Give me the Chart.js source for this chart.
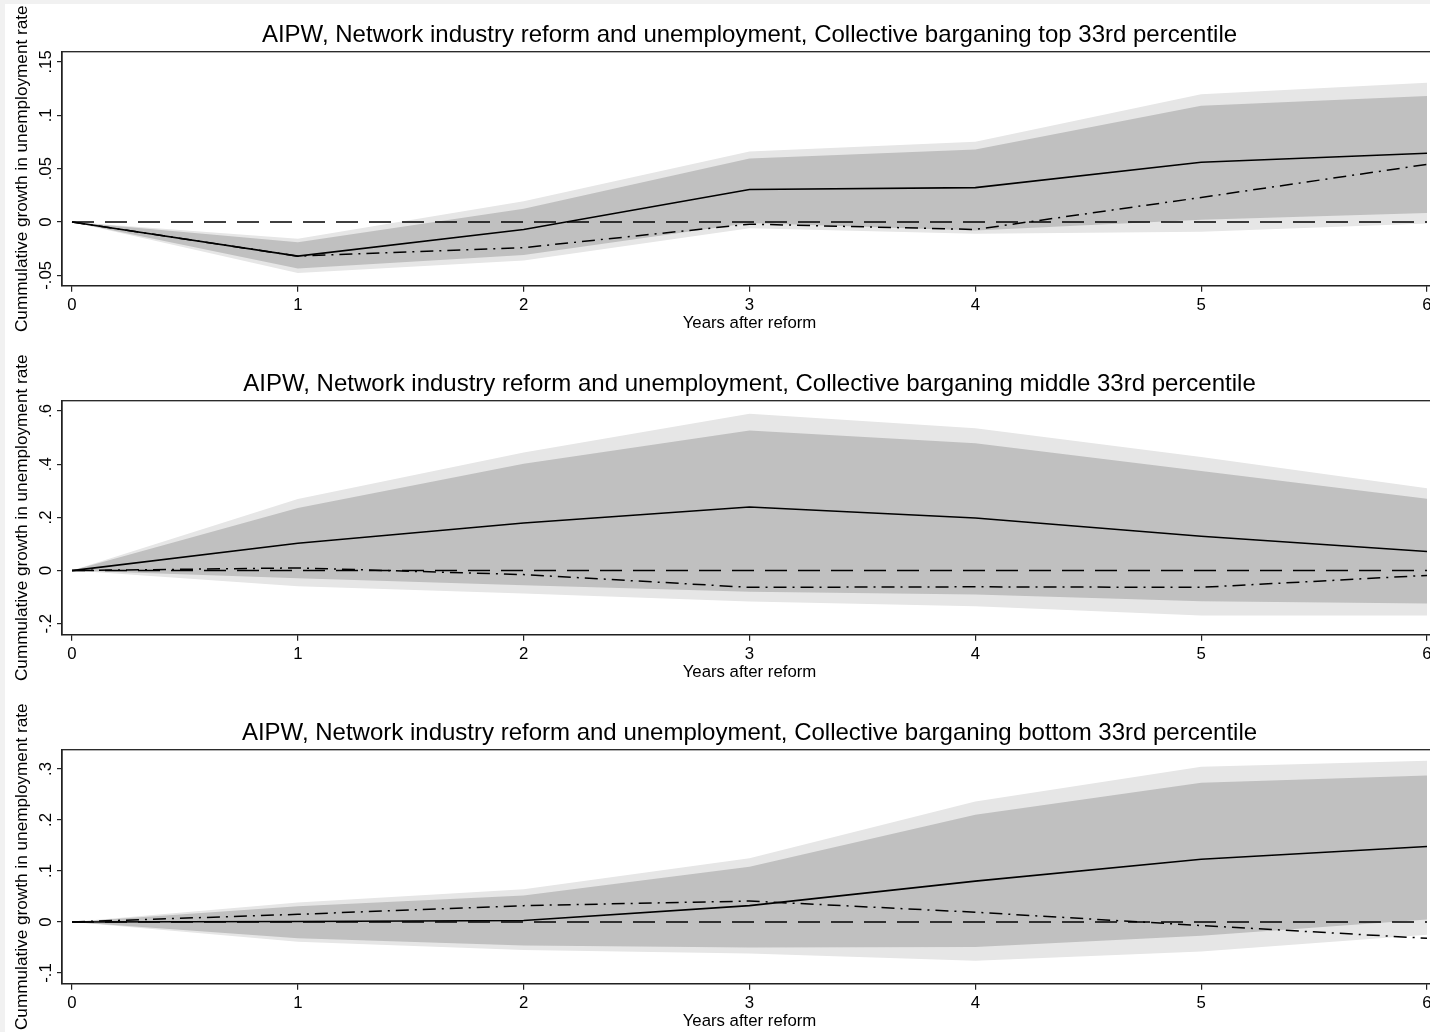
<!DOCTYPE html>
<html>
<head>
<meta charset="utf-8">
<title>AIPW, Network industry reform and unemployment</title>
<script src="https://cdn.jsdelivr.net/npm/chart.js@4.4.1/dist/chart.umd.min.js"></script>
<style>
  html, body { margin: 0; padding: 0; background: #f1f1f1; overflow: hidden; }
  #wrap { position: absolute; left: 5px; top: 4px; width: 1425px; height: 1028px; overflow: hidden; background: #fff; }
  canvas { display: block; }
</style>
</head>
<body>
<div id="wrap">
  <canvas id="top" width="1450" height="349"></canvas>
  <canvas id="middle" width="1450" height="349"></canvas>
  <canvas id="bottom" width="1450" height="349"></canvas>
</div>
<script>
// x axis: years after reform
const years = [0, 1, 2, 3, 4, 5, 6];
const xTickLabels = ['0', '1', '2', '3', '4', '5', '6'];

// top 33rd percentile
const topTitle = 'AIPW, Network industry reform and unemployment, Collective barganing top 33rd percentile';
const topEstimate = [0, -0.032, -0.007, 0.0305, 0.0322, 0.056, 0.0645];
const topAlt = [0, -0.032, -0.024, -0.002, -0.007, 0.023, 0.054];
const topUpper90 = [0, -0.019, 0.0125, 0.0595, 0.068, 0.109, 0.118];
const topLower90 = [0, -0.0435, -0.031, -0.001, -0.008, 0.002, 0.0085];
const topUpper95 = [0, -0.0158, 0.0195, 0.066, 0.0752, 0.1198, 0.1305];
const topLower95 = [0, -0.0477, -0.036, -0.0058, -0.011, -0.0092, -0.0015];
const topYTicks = [-0.05, 0, 0.05, 0.1, 0.15];
const topYLabels = ['-.05', '0', '.05', '.1', '.15'];

// middle 33rd percentile
const midTitle = 'AIPW, Network industry reform and unemployment, Collective barganing middle 33rd percentile';
const midEstimate = [0, 0.103, 0.179, 0.239, 0.198, 0.129, 0.072];
const midAlt = [0, 0.01, -0.015, -0.063, -0.061, -0.063, -0.018];
const midUpper90 = [0, 0.235, 0.402, 0.527, 0.479, 0.374, 0.27];
const midLower90 = [0, -0.029, -0.055, -0.08, -0.09, -0.115, -0.124];
const midUpper95 = [0, 0.269, 0.444, 0.59, 0.535, 0.427, 0.31];
const midLower95 = [0, -0.059, -0.086, -0.116, -0.134, -0.169, -0.169];
const midYTicks = [-0.2, 0, 0.2, 0.4, 0.6];
const midYLabels = ['-.2', '0', '.2', '.4', '.6'];

// bottom 33rd percentile
const botTitle = 'AIPW, Network industry reform and unemployment, Collective barganing bottom 33rd percentile';
const botEstimate = [0, 0.001, 0.003, 0.032, 0.08, 0.123, 0.148];
const botAlt = [0, 0.015, 0.032, 0.041, 0.019, -0.007, -0.032];
const botUpper90 = [0, 0.031, 0.052, 0.108, 0.21, 0.273, 0.287];
const botLower90 = [0, -0.032, -0.046, -0.05, -0.049, -0.027, 0.005];
const botUpper95 = [0, 0.038, 0.064, 0.125, 0.236, 0.304, 0.316];
const botLower95 = [0, -0.039, -0.055, -0.062, -0.076, -0.058, -0.025];
const botYTicks = [-0.1, 0, 0.1, 0.2, 0.3];
const botYLabels = ['-.1', '0', '.1', '.2', '.3'];

const zeroLine = [0, 0, 0, 0, 0, 0, 0];

const FONT = '"Liberation Sans", Arial, Helvetica, sans-serif';
Chart.defaults.font.family = FONT;

// plot region outline and the vertical y tick labels (Stata style)
const framePlugin = {
  id: 'frame',
  afterDraw(chart, args, opts) {
    const { ctx, chartArea: a } = chart;
    const y = chart.scales.y;
    ctx.save();
    ctx.strokeStyle = '#222';
    ctx.lineWidth = 1.3;
    ctx.strokeRect(a.left, a.top, a.right - a.left, a.bottom - a.top);
    ctx.fillStyle = '#000';
    ctx.font = '16.8px ' + FONT;
    ctx.textAlign = 'center';
    ctx.textBaseline = 'middle';
    opts.values.forEach((v, i) => {
      ctx.save();
      ctx.translate(41, y.getPixelForValue(v));
      ctx.rotate(-Math.PI / 2);
      ctx.fillText(opts.labels[i], 0, 0);
      ctx.restore();
    });
    ctx.restore();
  }
};

function pts(vals) {
  return years.map((x, i) => ({ x: x, y: vals[i] }));
}

function makePanel(id, title, est, alt, up90, lo90, up95, lo95, yMin, yMax, yTicks, yLabels) {
  const line = (vals, dash, width) => ({
    data: pts(vals), borderColor: '#000', borderWidth: width, borderDash: dash,
    pointRadius: 0, fill: false, tension: 0
  });
  const band = (vals, color, fill) => ({
    data: pts(vals), borderColor: 'rgba(0,0,0,0)', borderWidth: 1, backgroundColor: color,
    pointRadius: 0, fill: fill, tension: 0
  });

  new Chart(document.getElementById(id), {
    type: 'line',
    data: {
      datasets: [
        line(est, [], 1.6),
        line(alt, [13, 6, 2, 6], 1.5),
        line(zeroLine, [22, 11], 1.5),
        band(up90, '#c0c0c0', '+1'),
        band(lo90, '#c0c0c0', false),
        band(up95, '#e6e6e6', '+1'),
        band(lo95, '#e6e6e6', false)
      ]
    },
    options: {
      responsive: false,
      animation: false,
      devicePixelRatio: 1,
      layout: { padding: { left: 0, right: 18, top: 0, bottom: 21.6 } },
      plugins: {
        legend: { display: false },
        tooltip: { enabled: false },
        title: {
          display: true, text: title, color: '#000', fullSize: false,
          font: { size: 24, weight: 'normal', lineHeight: 1.2 },
          padding: { top: 16.6, bottom: 2.3 }
        },
        frame: { values: yTicks, labels: yLabels }
      },
      scales: {
        x: {
          type: 'linear', min: -0.0443, max: 6.0443,
          afterBuildTicks: s => { s.ticks = years.map(v => ({ value: v })); },
          ticks: {
            color: '#000', padding: 4.9, autoSkip: false, maxRotation: 0,
            font: { size: 16.8, lineHeight: 1 },
            callback: (v, i) => xTickLabels[i]
          },
          grid: { display: true, drawOnChartArea: false, drawTicks: true, tickLength: 6, color: '#222', lineWidth: 1.2 },
          border: { display: true, color: '#222', width: 1.3 },
          title: {
            display: true, text: 'Years after reform', color: '#000',
            font: { size: 16.8, lineHeight: 1 }, padding: { top: -3.7, bottom: 0 }
          }
        },
        y: {
          min: yMin, max: yMax,
          afterBuildTicks: s => { s.ticks = yTicks.map(v => ({ value: v })); },
          ticks: { display: false },
          grid: { display: true, drawOnChartArea: false, drawTicks: true, tickLength: 5, color: '#222', lineWidth: 1.2 },
          border: { display: true, color: '#222', width: 1.3 },
          title: {
            display: true, text: 'Cummulative growth in unemployment rate', color: '#000',
            font: { size: 17.2, lineHeight: 1 }, padding: { top: 8.4, bottom: 26.4 }
          }
        }
      }
    },
    plugins: [framePlugin]
  });
}

makePanel('top', topTitle, topEstimate, topAlt, topUpper90, topLower90, topUpper95, topLower95,
  -0.0597, 0.1596, topYTicks, topYLabels);
makePanel('middle', midTitle, midEstimate, midAlt, midUpper90, midLower90, midUpper95, midLower95,
  -0.241, 0.6387, midYTicks, midYLabels);
makePanel('bottom', botTitle, botEstimate, botAlt, botUpper90, botLower90, botUpper95, botLower95,
  -0.121, 0.3376, botYTicks, botYLabels);
</script>
</body>
</html>
